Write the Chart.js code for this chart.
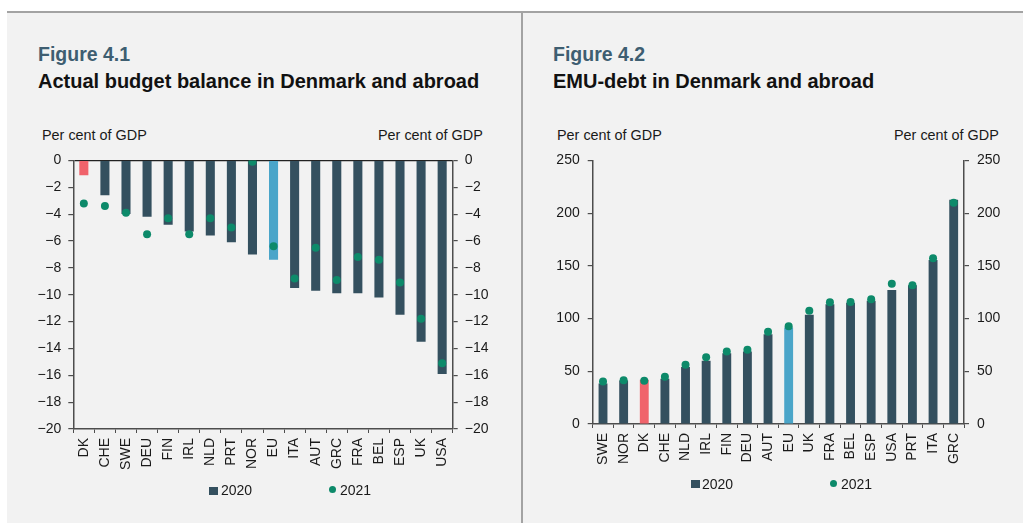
<!DOCTYPE html>
<html lang="en">
<head>
    <meta charset="UTF-8">
    <title>Budget balance and EMU-debt</title>
    <style>
        body {
            margin: 0;
            width: 1023px;
            height: 523px;
            background: #ffffff;
            font-family: "Liberation Sans", Arial, sans-serif;
            overflow: hidden;
        }
        .panel {
            position: absolute;
            left: 7px;
            top: 11px;
            width: 1016px;
            height: 512px;
            background: #f2f2f2;
            border-top: 2px solid #a3a3a3;
            box-sizing: border-box;
        }
        .divider {
            position: absolute;
            left: 521px;
            top: 11px;
            width: 2px;
            height: 512px;
            background: #a3a3a3;
        }
        .txt {
            position: absolute;
            line-height: 1;
            white-space: nowrap;
            color: #1a1a1a;
        }
        .fig { font-size: 19.5px; font-weight: bold; color: #3e5e71; }
        .title { font-size: 20px; font-weight: bold; color: #111; }
        .unit { font-size: 14.4px; }
        .leg { font-size: 14px; }
        .box { position: absolute; }
        .sq { position: absolute; width: 9px; height: 8px; background: #34505f; }
        .dot { position: absolute; width: 7px; height: 7px; border-radius: 50%; background: #0d8a6a; }
    </style>
</head>
<body>
    <div class="panel"></div>
    <div class="divider"></div>

    <!-- Figure 4.1 headings -->
    <div class="txt fig" style="left:38px; top:45px;">Figure 4.1</div>
    <div class="txt title" style="left:38px; top:71px;">Actual budget balance in Denmark and abroad</div>
    <div class="txt unit" style="left:42px; top:128px;">Per cent of GDP</div>
    <div class="txt unit" style="left:378px; top:128px;">Per cent of GDP</div>

    <!-- Figure 4.2 headings -->
    <div class="txt fig" style="left:553px; top:45px;">Figure 4.2</div>
    <div class="txt title" style="left:553px; top:71px;">EMU-debt in Denmark and abroad</div>
    <div class="txt unit" style="left:557px; top:128px;">Per cent of GDP</div>
    <div class="txt unit" style="left:894px; top:128px;">Per cent of GDP</div>

    <!-- Charts -->
    <div class="box" style="left:20px; top:145px; width:490px; height:334px;">
        <canvas id="balanceChart"></canvas>
    </div>
    <div class="box" style="left:530px; top:144px; width:490px; height:330px;">
        <canvas id="debtChart"></canvas>
    </div>

    <!-- Legends -->
    <div class="sq" style="left:209px; top:487px;"></div>
    <div class="txt leg" style="left:221px; top:483px;">2020</div>
    <div class="dot" style="left:329px; top:486px;"></div>
    <div class="txt leg" style="left:340px; top:483px;">2021</div>

    <div class="sq" style="left:691px; top:480px;"></div>
    <div class="txt leg" style="left:702px; top:477px;">2020</div>
    <div class="dot" style="left:830px; top:480px;"></div>
    <div class="txt leg" style="left:841px; top:477px;">2021</div>

    <script src="https://cdn.jsdelivr.net/npm/chart.js"></script>
    <script>
    // Figure 4.1 - actual budget balance, per cent of GDP
    const balanceCountries = ['DK', 'CHE', 'SWE', 'DEU', 'FIN', 'IRL', 'NLD', 'PRT', 'NOR', 'EU',
        'ITA', 'AUT', 'GRC', 'FRA', 'BEL', 'ESP', 'UK', 'USA'];
    const balance2020 = [-1.1, -2.6, -4.0, -4.2, -4.8, -5.3, -5.6, -6.1, -7.0, -7.4,
        -9.5, -9.7, -9.9, -9.9, -10.2, -11.5, -13.5, -15.9];
    const balance2021 = [-3.2, -3.4, -3.9, -5.5, -4.3, -5.5, -4.3, -5.0, -0.1, -6.4,
        -8.8, -6.5, -8.9, -7.2, -7.4, -9.1, -11.8, -15.1];

    // Figure 4.2 - EMU-debt, per cent of GDP
    const debtCountries = ['SWE', 'NOR', 'DK', 'CHE', 'NLD', 'IRL', 'FIN', 'DEU', 'AUT', 'EU',
        'UK', 'FRA', 'BEL', 'ESP', 'USA', 'PRT', 'ITA', 'GRC'];
    const debt2020 = [38.5, 41.3, 42.0, 42.9, 54.0, 60.0, 67.2, 68.8, 85.2, 91.5,
        103.5, 113.6, 114.9, 116.8, 127.2, 131.6, 155.6, 212.7];
    const debt2021 = [40.4, 41.6, 41.0, 44.8, 56.2, 63.4, 68.8, 70.4, 87.4, 92.8,
        107.3, 115.5, 115.8, 118.4, 132.9, 131.6, 157.2, 209.8];

    const balanceTicks = { min: -20, max: 0, step: 2 };
    const debtTicks = { min: 0, max: 250, step: 50 };

    const barColor = '#34505f';
    const dkColor = '#f0636b';
    const euColor = '#4aa5c9';
    const dotColor = '#0d8a6a';
    const axisColor = '#4d4d4d';
    const textColor = '#1a1a1a';
    const tickFont = { family: '"Liberation Sans", Arial, sans-serif', size: 14 };

    function barColors(labels) {
        return labels.map(c => c === 'DK' ? dkColor : (c === 'EU' ? euColor : barColor));
    }

    function formatTick(v) {
        return v < 0 ? '\u2212' + Math.abs(v) : String(v);
    }

    function yAxis(position, range, width, padding, zeroLine) {
        return {
            type: 'linear',
            position: position,
            min: range.min,
            max: range.max,
            afterFit: scale => { scale.width = width; },
            border: { display: true, color: axisColor, width: 1.5 },
            grid: {
                drawOnChartArea: zeroLine,
                color: ctx => (zeroLine && ctx.tick && ctx.tick.value === 0) ? '#222' : 'rgba(0,0,0,0)',
                lineWidth: 1.2,
                tickColor: axisColor,
                tickLength: 5
            },
            ticks: {
                stepSize: range.step,
                color: textColor,
                font: tickFont,
                padding: padding,
                callback: formatTick
            }
        };
    }

    function buildChart(canvasId, labels, values2020, values2021, range, leftW, rightW, padding, zeroLine) {
        const ctx = document.getElementById(canvasId).getContext('2d');
        return new Chart(ctx, {
            type: 'bar',
            data: {
                labels: labels,
                datasets: [
                    {
                        type: 'line',
                        label: '2021',
                        data: values2021,
                        showLine: false,
                        pointRadius: 4,
                        pointBackgroundColor: dotColor,
                        pointBorderWidth: 0,
                        borderColor: dotColor,
                        yAxisID: 'y',
                        order: 1
                    },
                    {
                        label: '2020',
                        data: values2020,
                        backgroundColor: barColors(labels),
                        barPercentage: 0.43,
                        categoryPercentage: 1,
                        yAxisID: 'y',
                        order: 2
                    }
                ]
            },
            options: {
                responsive: true,
                maintainAspectRatio: false,
                animation: false,
                layout: { padding: { top: 10, left: 0, right: 0, bottom: 0 } },
                plugins: {
                    legend: { display: false },
                    tooltip: { enabled: false }
                },
                scales: {
                    x: {
                        type: 'category',
                        position: 'bottom',
                        offset: true,
                        afterFit: scale => { scale.height = 50; },
                        border: { display: true, color: axisColor, width: 1.5 },
                        grid: {
                            offset: true,
                            drawOnChartArea: false,
                            tickColor: axisColor,
                            tickLength: 4
                        },
                        ticks: {
                            autoSkip: false,
                            maxRotation: 90,
                            minRotation: 90,
                            padding: 5,
                            color: textColor,
                            font: tickFont
                        }
                    },
                    y: yAxis('left', range, leftW, padding, zeroLine),
                    y2: yAxis('right', range, rightW, padding, false)
                }
            }
        });
    }

    buildChart('balanceChart', balanceCountries, balance2020, balance2021, balanceTicks, 53.3, 57.3, 7, true);
    buildChart('debtChart', debtCountries, debt2020, debt2021, debtTicks, 62.7, 56, 8, false);
    </script>
</body>
</html>
